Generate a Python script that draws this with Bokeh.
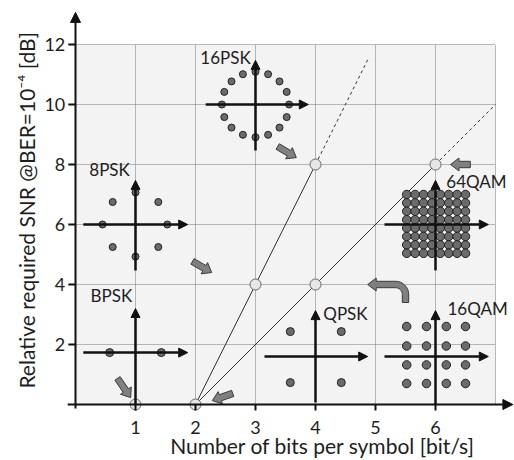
import math
from bokeh.plotting import figure
from bokeh.models import Range1d, Arrow, NormalHead
from bokeh.core.properties import value
from bokeh.embed import file_html
from bokeh.resources import INLINE

# ---------------- data ----------------
x_ticks = [1, 2, 3, 4, 5, 6]
y_ticks = [2, 4, 6, 8, 10, 12]
x_grid = [1, 2, 3, 4, 5, 6, 7]
y_grid = [2, 4, 6, 8, 10, 12]
x_tick_labels = ["1", "2", "3", "4", "5", "6"]
y_tick_labels = ["2", "4", "6", "8", "10", "12"]

# trend lines (bits/symbol, dB)
psk_solid_x = [2, 4]
psk_solid_y = [0, 8]
psk_dash_x = [4, 4.88]
psk_dash_y = [8, 11.53]
qam_solid_x = [2, 6]
qam_solid_y = [0, 8]
qam_dash_x = [6, 7]
qam_dash_y = [8, 10]

# operating points
op_x = [1, 2, 3, 4, 4, 6]
op_y = [0, 0, 4, 4, 8, 8]

# constellation axes: (x_start, x_end, y_level) and (y_start, y_end, x_level)
const_names = ["BPSK", "QPSK", "16QAM", "64QAM", "8PSK", "16PSK"]
const_h_axes = [(0.13, 1.87, 1.73), (3.15, 4.87, 1.6), (5.15, 6.88, 1.6),
                (5.15, 6.88, 6.0), (0.13, 1.87, 6.0), (2.17, 3.88, 10.0)]
const_v_axes = [(0.0, 3.2, 1.0), (0.07, 3.13, 4.0), (0.0, 3.13, 6.0),
                (4.47, 7.47, 6.0), (4.47, 7.47, 1.0), (8.47, 11.47, 3.0)]
label_x = [0.25, 4.13, 6.2, 6.18, 0.23, 2.08]
label_y = [3.63, 3.03, 3.2, 7.43, 7.83, 11.57]

bpsk_x = [0.57, 1.43]
bpsk_y = [1.73, 1.73]
qpsk_x = [3.58, 4.43, 3.58, 4.43]
qpsk_y = [2.43, 2.43, 0.73, 0.73]
qam16_cols = [5.52, 5.85, 6.18, 6.5]
qam16_rows = [2.6, 1.95, 1.32, 0.7]
qam64_cols = [5.52, 5.66, 5.80, 5.94, 6.08, 6.22, 6.36, 6.50]
qam64_rows = [7.0, 6.72, 6.44, 6.16, 5.88, 5.60, 5.32, 5.04]
psk8_x = [1.53, 1.38, 1.0, 0.62, 0.45, 0.62, 1.0, 1.38]
psk8_y = [6.0, 6.75, 7.07, 6.75, 6.0, 5.25, 4.93, 5.25]
psk16_x = [3.56, 3.52, 3.40, 3.21, 3.0, 2.79, 2.60, 2.48,
           2.44, 2.48, 2.60, 2.79, 3.0, 3.21, 3.40, 3.52]
psk16_y = [10.0, 10.42, 10.77, 11.01, 11.09, 11.01, 10.77, 10.42,
           10.0, 9.58, 9.23, 8.99, 8.91, 8.99, 9.23, 9.58]

# gray pointer arrows (start -> tip)
ptr_start_x = [0.70, 2.62, 1.95, 3.37, 6.58]
ptr_start_y = [0.87, 0.37, 4.77, 8.60, 8.0]
ptr_tip_x = [0.92, 2.28, 2.27, 3.68, 6.25]
ptr_tip_y = [0.23, 0.13, 4.40, 8.23, 8.0]
curved_start = (5.5, 3.4)
curved_tip = (4.87, 4.0)

# ---------------- figure ----------------
W, H = 514, 460
x0 = -75 / 60
x1 = x0 + W / 60
y1 = 404 / 30
y0 = y1 - H / 30
SX = W / (x1 - x0)
SY = H / (y1 - y0)

p = figure(width=W, height=H, x_range=Range1d(x0, x1), y_range=Range1d(y0, y1),
           min_border=0, min_border_left=0, min_border_right=0, min_border_top=0,
           min_border_bottom=0, toolbar_location=None, output_backend="svg")
p.axis.visible = False
p.grid.visible = False
p.outline_line_color = None
p.background_fill_color = "white"
p.border_fill_color = "white"

FONT = value("Lato")
TXT = "#1e1e1e"

# plot area background
p.quad(left=[0], right=[x_grid[-1]], bottom=[0], top=[y_grid[-1]],
       fill_color="#f2f3f2", line_color=None)
# grid
p.segment(x0=x_grid, x1=x_grid, y0=[0] * len(x_grid), y1=[y_grid[-1]] * len(x_grid),
          line_color="#777777", line_width=1, line_dash="1 1")
p.segment(x0=[0] * len(y_grid), x1=[x_grid[-1]] * len(y_grid), y0=y_grid, y1=y_grid,
          line_color="#777777", line_width=1, line_dash="1 1")

# trend lines
p.line(psk_solid_x, psk_solid_y, line_color="#333333", line_width=1)
p.line(qam_solid_x, qam_solid_y, line_color="#333333", line_width=1)
p.line(psk_dash_x, psk_dash_y, line_color="#333333", line_width=1, line_dash="3 3")
p.line(qam_dash_x, qam_dash_y, line_color="#333333", line_width=1, line_dash="3 3")

# constellation axes
for (hs, he, hy), (vs, ve, vx) in zip(const_h_axes, const_v_axes):
    for xs, ys, xe, ye in [(hs, hy, he, hy), (vx, vs, vx, ve)]:
        p.add_layout(Arrow(end=NormalHead(size=9, fill_color="#111111", line_color="#111111", line_width=1),
                           x_start=xs, y_start=ys, x_end=xe, y_end=ye,
                           line_color="#111111", line_width=2.5))

# constellation points
pt_style = dict(fill_color="#6b6b6b", line_color="#222222", line_width=1)
p.scatter(bpsk_x, bpsk_y, size=8, **pt_style)
p.scatter(qpsk_x, qpsk_y, size=8, **pt_style)
p.scatter([c for r in qam16_rows for c in qam16_cols], [r for r in qam16_rows for c in qam16_cols],
          size=8.5, **pt_style)
p.scatter([c for r in qam64_rows for c in qam64_cols], [r for r in qam64_rows for c in qam64_cols],
          size=8.5, **pt_style)
p.scatter(psk8_x, psk8_y, size=7, **pt_style)
p.scatter(psk16_x, psk16_y, size=7, **pt_style)

# operating points
p.scatter(op_x, op_y, size=11, fill_color="#e6e6e6", line_color="#666666", line_width=1)


# gray pointer arrows as polygons (built in screen space)
def block_arrow(xs, ys, xe, ye, w=3.2, h=6.5, L=8.5):
    ax, ay, bx, by = xs * SX, ys * SY, xe * SX, ye * SY
    d = math.hypot(bx - ax, by - ay)
    ux, uy = (bx - ax) / d, (by - ay) / d
    nx, ny = -uy, ux
    cx, cy = bx - ux * L, by - uy * L
    pts = [(ax + nx * w, ay + ny * w), (cx + nx * w, cy + ny * w), (cx + nx * h, cy + ny * h),
           (bx, by), (cx - nx * h, cy - ny * h), (cx - nx * w, cy - ny * w), (ax - nx * w, ay - ny * w)]
    return [q[0] / SX for q in pts], [q[1] / SY for q in pts]


def curved_arrow(start, tip, r=10, w=3.2, h=6.5, L=8.5, n=12):
    sx, sy = start[0] * SX, start[1] * SY
    tx, ty = tip[0] * SX, tip[1] * SY
    ccx, ccy = sx - r, ty - r
    center = [((sx, sy), (0, 1))]
    for i in range(n + 1):
        a = math.pi / 2 * i / n
        center.append(((ccx + r * math.cos(a), ccy + r * math.sin(a)), (-math.sin(a), math.cos(a))))
    bx = tx + L
    center.append(((bx, ty), (-1, 0)))
    left, right = [], []
    for (px_, py_), (ux, uy) in center:
        nx, ny = -uy, ux
        left.append((px_ + nx * w, py_ + ny * w))
        right.append((px_ - nx * w, py_ - ny * w))
    nx, ny = 0, -1
    head = [(bx + nx * h, ty + ny * h), (tx, ty), (bx - nx * h, ty - ny * h)]
    pts = left + head + right[::-1]
    return [q[0] / SX for q in pts], [q[1] / SY for q in pts]


xs_list, ys_list = [], []
for a, b, c, d in zip(ptr_start_x, ptr_start_y, ptr_tip_x, ptr_tip_y):
    px_, py_ = block_arrow(a, b, c, d)
    xs_list.append(px_)
    ys_list.append(py_)
px_, py_ = curved_arrow(curved_start, curved_tip)
xs_list.append(px_)
ys_list.append(py_)
p.patches(xs_list, ys_list, fill_color="#808080", line_color="#3a3a3a", line_width=1)

# constellation labels
p.text(x=label_x, y=label_y, text=const_names, text_font=FONT, text_font_size=value("17px"),
       text_align="left", text_baseline="middle", text_color=TXT)

# main axes
p.add_layout(Arrow(end=NormalHead(size=10, fill_color="#111111", line_color="#111111"),
                   x_start=-0.13, y_start=0, x_end=7.29, y_end=0,
                   line_color="#111111", line_width=2))
p.add_layout(Arrow(end=NormalHead(size=10, fill_color="#111111", line_color="#111111"),
                   x_start=0, y_start=-0.13, x_end=0, y_end=13.07,
                   line_color="#111111", line_width=2))
p.segment(x0=x_ticks, x1=x_ticks, y0=[0] * len(x_ticks), y1=[-0.2] * len(x_ticks),
          line_color="#111111", line_width=2)
p.segment(x0=[-0.12] * len(y_ticks), x1=[0] * len(y_ticks), y0=y_ticks, y1=y_ticks,
          line_color="#111111", line_width=2)

# tick labels
p.text(x=x_ticks, y=[-0.77] * len(x_ticks), text=x_tick_labels, text_font=FONT,
       text_font_size=value("18px"), text_align="center", text_baseline="middle", text_color=TXT)
p.text(x=[-0.17] * len(y_ticks), y=y_ticks, text=y_tick_labels, text_font=FONT,
       text_font_size=value("18px"), text_align="right", text_baseline="middle", text_color=TXT)

# axis titles
p.text(x=[4.12], y=[-1.37], text=["Number of bits per symbol [bit/s]"], text_font=FONT,
       text_font_size=value("21px"), text_align="center", text_baseline="middle", text_color=TXT)
p.text(x=[-0.82], y=[6.47], text=["Relative required SNR @BER=10\u207b\u2074 [dB]"], angle=math.pi / 2,
       text_font=FONT, text_font_size=value("21px"), text_align="center", text_baseline="middle",
       text_color=TXT)

open("out.html", "w").write(file_html(p, INLINE))
